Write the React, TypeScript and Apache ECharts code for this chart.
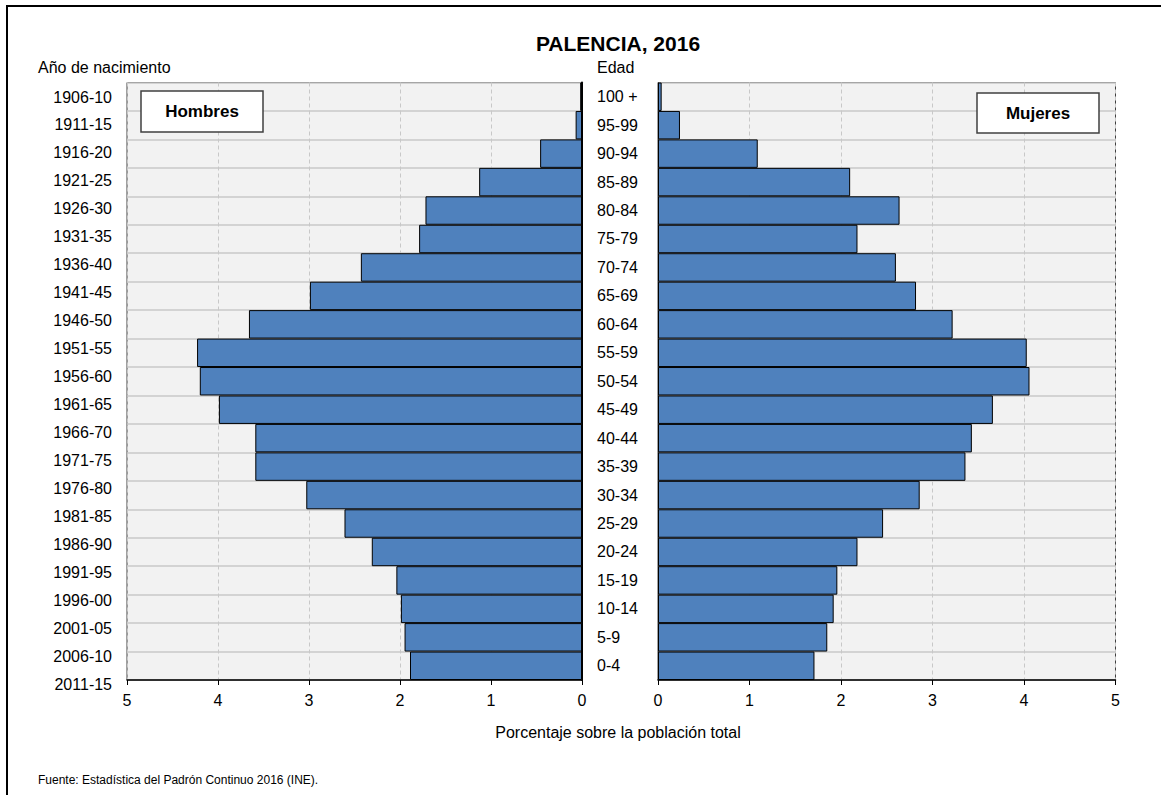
import React, { useEffect, useRef } from "react";
import * as echarts from "echarts";

const ageGroups = [
  "100 +", "95-99", "90-94", "85-89", "80-84", "75-79", "70-74", "65-69", "60-64", "55-59",
  "50-54", "45-49", "40-44", "35-39", "30-34", "25-29", "20-24", "15-19", "10-14", "5-9", "0-4",
];

const birthYears = [
  "1906-10", "1911-15", "1916-20", "1921-25", "1926-30", "1931-35", "1936-40", "1941-45",
  "1946-50", "1951-55", "1956-60", "1961-65", "1966-70", "1971-75", "1976-80", "1981-85",
  "1986-90", "1991-95", "1996-00", "2001-05", "2006-10", "2011-15",
];

const hombres = [
  0.02, 0.07, 0.46, 1.13, 1.72, 1.79, 2.43, 2.99, 3.66, 4.23, 4.2,
  3.99, 3.59, 3.59, 3.03, 2.61, 2.31, 2.04, 1.99, 1.95, 1.89,
];

const mujeres = [
  0.04, 0.24, 1.09, 2.1, 2.64, 2.18, 2.6, 2.82, 3.22, 4.03, 4.06,
  3.66, 3.43, 3.36, 2.86, 2.46, 2.18, 1.96, 1.92, 1.85, 1.71,
];

const xTicks = ["0", "1", "2", "3", "4", "5"];

const FONT = "'Liberation Sans', Arial, sans-serif";

export default function App() {
  const ref = useRef<HTMLDivElement>(null);

  useEffect(() => {
    document.body.style.margin = "0";
    if (!ref.current) return;
    const chart = echarts.init(ref.current, null, { renderer: "svg" });

    const PLOT_TOP = 82.5;
    const PLOT_H = 597.5;

    const valueAxis = (gridIndex: number, inverse: boolean) => ({
      type: "value",
      gridIndex,
      min: 0,
      max: 5,
      interval: 1,
      inverse,
      axisLine: { show: true, lineStyle: { color: "#000", width: 1.5 } },
      axisTick: { show: true, inside: false, length: 5, lineStyle: { color: "#000" } },
      axisLabel: {
        color: "#000",
        fontSize: 16,
        fontFamily: FONT,
        margin: 12,
        formatter: (v: number) => xTicks[Math.round(v)] ?? String(v),
      },
      splitLine: { show: true, lineStyle: { color: "#c8c8c8", type: [4, 3], width: 1 } },
    });

    const catAxis = (gridIndex: number, position: string, showLabels: boolean) => ({
      type: "category",
      gridIndex,
      data: ageGroups,
      inverse: true,
      position,
      axisLine: {
        show: true,
        lineStyle: { color: showLabels ? "#404040" : "#000", width: showLabels ? 1 : 2 },
      },
      axisTick: { show: false },
      axisLabel: showLabels
        ? { show: true, color: "#000", fontSize: 16, fontFamily: FONT, align: "left", margin: 61 }
        : { show: false },
      splitLine: { show: true, lineStyle: { color: "#c8c8c8", width: 1.5 } },
    });

    const barStyle = { color: "#4f81bd", borderColor: "#000", borderWidth: 1 };

    chart.setOption({
      animation: false,
      backgroundColor: "#fff",
      textStyle: { fontFamily: FONT },
      grid: [
        {
          left: 127, top: PLOT_TOP, width: 455, height: PLOT_H,
          show: true, backgroundColor: "#f2f2f2", borderColor: "#404040", borderWidth: 1,
        },
        {
          left: 658, top: PLOT_TOP, width: 457.5, height: PLOT_H,
          show: true, backgroundColor: "#f2f2f2", borderColor: "#404040", borderWidth: 1,
        },
        { left: 127, top: 97, width: 10, height: 587, show: false },
      ],
      xAxis: [
        valueAxis(0, true),
        valueAxis(1, false),
        { type: "value", gridIndex: 2, show: false, min: 0, max: 1 },
      ],
      yAxis: [
        catAxis(0, "right", false),
        catAxis(1, "left", true),
        {
          type: "category",
          gridIndex: 2,
          data: birthYears,
          inverse: true,
          boundaryGap: false,
          position: "left",
          axisLine: { show: false },
          axisTick: { show: false },
          splitLine: { show: false },
          axisLabel: { color: "#000", fontSize: 16, fontFamily: FONT, margin: 15, interval: 0 },
        },
      ],
      series: [
        {
          name: "Hombres",
          type: "bar",
          xAxisIndex: 0,
          yAxisIndex: 0,
          data: hombres,
          barCategoryGap: "0%",
          itemStyle: barStyle,
          silent: true,
        },
        {
          name: "Mujeres",
          type: "bar",
          xAxisIndex: 1,
          yAxisIndex: 1,
          data: mujeres,
          barCategoryGap: "0%",
          itemStyle: barStyle,
          silent: true,
        },
      ],
      graphic: [
        {
          type: "rect",
          shape: { x: 7, y: 6, width: 1300, height: 1000 },
          style: { fill: "none", stroke: "#000", lineWidth: 2 },
          silent: true,
          z: 100,
        },
        {
          type: "text",
          x: 618, y: 43,
          style: {
            text: "PALENCIA, 2016", fill: "#000", font: `bold 21px ${FONT}`,
            textAlign: "center", textVerticalAlign: "middle",
          },
        },
        {
          type: "text",
          x: 38, y: 67,
          style: { text: "Año de nacimiento", fill: "#000", font: `16px ${FONT}`, textVerticalAlign: "middle" },
        },
        {
          type: "text",
          x: 597, y: 67,
          style: { text: "Edad", fill: "#000", font: `16px ${FONT}`, textVerticalAlign: "middle" },
        },
        {
          type: "rect",
          z: 100,
          shape: { x: 141, y: 91, width: 122, height: 41 },
          style: { fill: "#fff", stroke: "#404040", lineWidth: 1.5 },
        },
        {
          type: "text",
          z: 101,
          x: 202, y: 111.5,
          style: {
            text: "Hombres", fill: "#000", font: `bold 17px ${FONT}`,
            textAlign: "center", textVerticalAlign: "middle",
          },
        },
        {
          type: "rect",
          z: 100,
          shape: { x: 977, y: 93, width: 122, height: 40 },
          style: { fill: "#fff", stroke: "#404040", lineWidth: 1.5 },
        },
        {
          type: "text",
          z: 101,
          x: 1038, y: 113,
          style: {
            text: "Mujeres", fill: "#000", font: `bold 17px ${FONT}`,
            textAlign: "center", textVerticalAlign: "middle",
          },
        },
        {
          type: "text",
          x: 618, y: 732,
          style: {
            text: "Porcentaje sobre la población total", fill: "#000", font: `16px ${FONT}`,
            textAlign: "center", textVerticalAlign: "middle",
          },
        },
        {
          type: "text",
          x: 38, y: 780,
          style: {
            text: "Fuente: Estadística del Padrón Continuo 2016 (INE).", fill: "#000",
            font: `12px ${FONT}`, textVerticalAlign: "middle",
          },
        },
      ],
    });

    return () => chart.dispose();
  }, []);

  return <div ref={ref} style={{ width: 1161, height: 795 }} />;
}
